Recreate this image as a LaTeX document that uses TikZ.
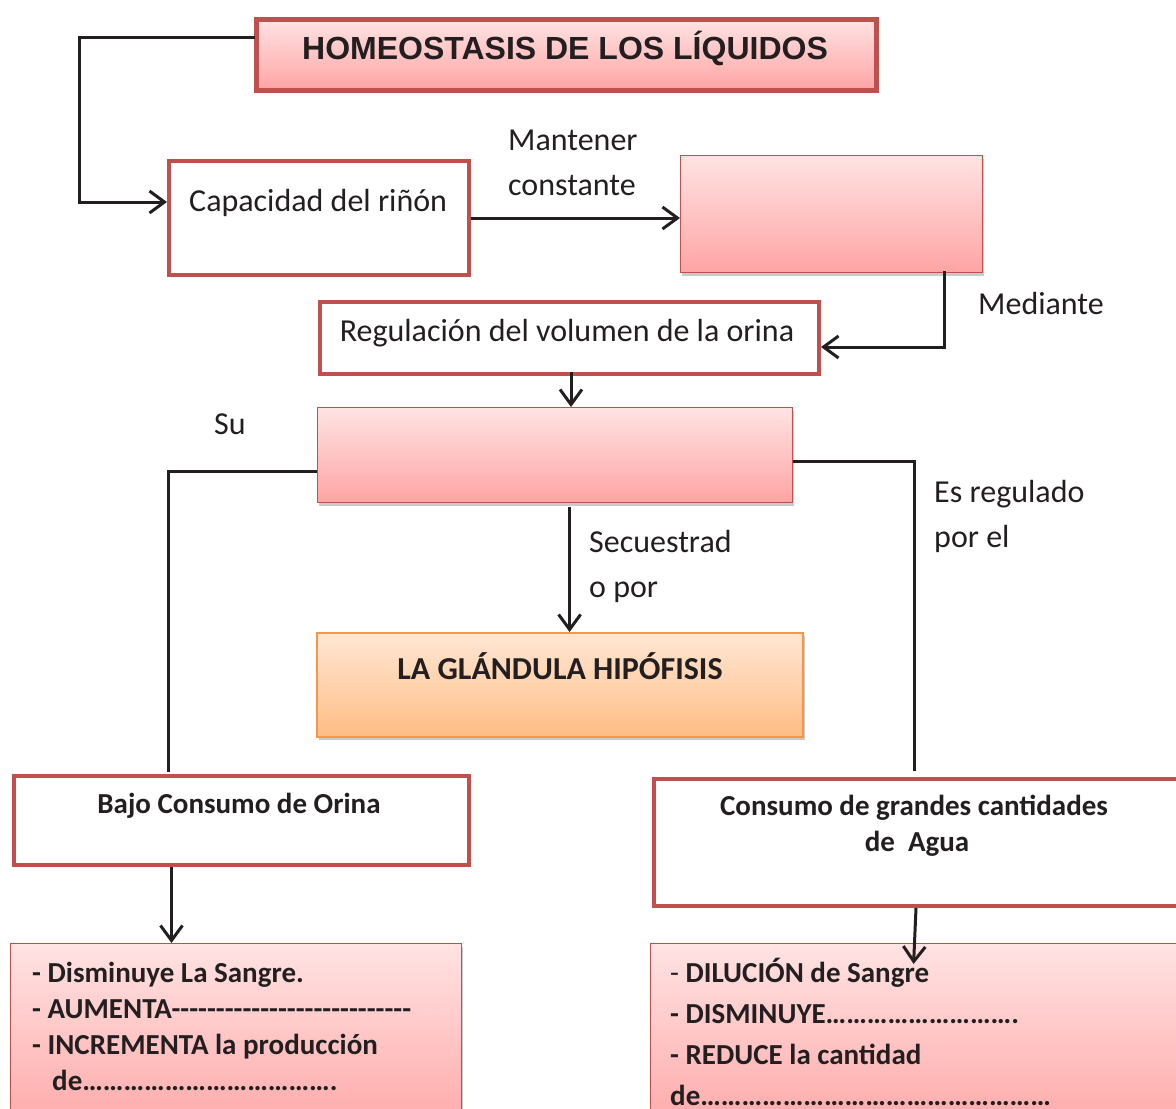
\documentclass[tikz,border=0pt]{standalone}
\usepackage{fontspec}
\setmainfont{Carlito}[Ligatures=TeXOff]
\newfontfamily\titlefont{Liberation Sans}
\usetikzlibrary{arrows.meta,shadows,calc}

\definecolor{boxred}{HTML}{C0504D}
\definecolor{pinktop}{HTML}{FFE3E3}
\definecolor{pinkbot}{HTML}{FFA4A4}
\definecolor{orangeline}{HTML}{F79646}
\definecolor{orangetop}{HTML}{FFE7D4}
\definecolor{orangebot}{HTML}{FFBD85}
\definecolor{ink}{HTML}{231F20}

% repeated fill-in marks
\newcommand\fillellip[1]{\foreach \k in {1,...,#1}{…}}
\newcommand\fillhyph[1]{\foreach \k in {1,...,#1}{-}}

\tikzset{
  boxshadow/.style={drop shadow={shadow xshift=1.5pt,shadow yshift=-3pt,opacity=0.35,fill=black!60}},
  framebox/.style={draw=boxred,line width=4pt,fill=white,inner sep=0pt,anchor=north west},
  pinkbox/.style={draw=boxred,line width=1.2pt,top color=pinktop,bottom color=pinkbot,
    inner sep=0pt,anchor=north west,boxshadow},
  titlebox/.style={draw=boxred,line width=4.5pt,top color=pinktop,bottom color=pinkbot,
    inner sep=0pt,anchor=north west,boxshadow},
  orangebox/.style={draw=orangeline,line width=2pt,top color=orangetop,bottom color=orangebot,
    inner sep=0pt,anchor=north west,boxshadow},
  conn/.style={draw=ink,line width=3pt},
  arr/.style={conn,-{Straight Barb[length=15pt,width=22pt]}},
  plain/.style={inner sep=0pt,text=ink,font=\fontsize{32}{38}\selectfont},
  bold/.style={inner sep=0pt,text=ink,font=\fontsize{29}{35}\selectfont\bfseries},
}

\begin{document}
\begin{tikzpicture}[x=1pt,y=-1pt]
\useasboundingbox (0,0) rectangle (1176,1109);
\clip (0,0) rectangle (1176,1109);

% boxes
\node[titlebox,minimum width=620pt,minimum height=71pt] (title) at (254,17) {};
\node[framebox,minimum width=300pt,minimum height=114pt] (cap) at (167,159) {};
\node[pinkbox,minimum width=302pt,minimum height=117pt] (keep) at (680,155) {};
\node[framebox,minimum width=499pt,minimum height=72pt] (reg) at (318,300) {};
\node[pinkbox,minimum width=475pt,minimum height=95pt] (hormone) at (317,407) {};
\node[orangebox,minimum width=486pt,minimum height=104pt] (hip) at (316,632) {};
\node[framebox,minimum width=455pt,minimum height=89pt] (bajo) at (12,774) {};
\node[framebox,minimum width=540pt,minimum height=127pt] (agua) at (652,777) {};
\node[pinkbox,minimum width=451pt,minimum height=200pt] (effL) at (10,943) {};
\node[pinkbox,minimum width=540pt,minimum height=200pt] (effR) at (650,943) {};

% box texts
\node[inner sep=0pt,text=ink,anchor=base,font=\titlefont\fontsize{32}{38}\selectfont\bfseries] (ttext) at (565,59) {HOMEOSTASIS DE LOS LÍQUIDOS};
\node[plain,anchor=base west] (captext) at (189,211) {Capacidad del riñón};
\node[plain,anchor=base] (regtext) at (567,341) {Regulación del volumen de la orina};
\node[bold,anchor=base,font=\fontsize{32}{38}\selectfont\bfseries] (hiptext) at (560,679) {LA GLÁNDULA HIPÓFISIS};
\node[bold,anchor=base] (bajotext) at (239,813) {Bajo Consumo de Orina};
\node[bold,anchor=base] (aguatext1) at (914,815) {Consumo de grandes cantidades};
\node[bold,anchor=base] (aguatext2) at (917,851) {de\ \ Agua};

\node[bold,anchor=base west] (l1) at (32,982) {- Disminuye La Sangre.};
\node[bold,anchor=base west] (l2) at (32,1018) {- AUMENTA\fillhyph{27}};
\node[bold,anchor=base west] (l3) at (32,1054) {- INCREMENTA la producción};
\node[bold,anchor=base west] (l4) at (52,1090) {de\fillellip{12}.};

\node[bold,anchor=base west] (r1) at (670,982) {\mdseries-\bfseries\ DILUCIÓN de Sangre};
\node[bold,anchor=base west] (r2) at (670,1023) {- DISMINUYE\fillellip{9}.};
\node[bold,anchor=base west] (r3) at (670,1064) {- REDUCE la cantidad};
\node[bold,anchor=base west] (r4) at (670,1105) {de\fillellip{17}};

% connector labels
\node[plain,anchor=base west] (lab1a) at (508,150) {Mantener};
\node[plain,anchor=base west] (lab1b) at (508,195) {constante};
\node[plain,anchor=base west] (lab2) at (978,314) {Mediante};
\node[plain,anchor=base west] (lab3) at (214,434) {Su};
\node[plain,anchor=base west] (lab4a) at (934,502) {Es regulado};
\node[plain,anchor=base west] (lab4b) at (934,547) {por el};
\node[plain,anchor=base west] (lab5a) at (589,552) {Secuestrad};
\node[plain,anchor=base west] (lab5b) at (589,597) {o por};

% connector end points
\coordinate (titleout) at ($(title.north west)+(1,20)$);
\coordinate (capin) at ($(cap.west)+(0,-16)$);
\coordinate (keepout) at ($(keep.south)+(113,-2)$);
\coordinate (regin) at ($(reg.east)+(0,9)$);
\coordinate (regout) at ($(reg.south)+(1.5,-4)$);
\coordinate (leftout) at ($(hormone.west)+(0,16.5)$);
\coordinate (bajoin) at ($(bajo.north)+(-73,-2)$);
\coordinate (rightout) at ($(hormone.east)+(0,6.5)$);
\coordinate (aguain) at ($(agua.north)+(-10,-6)$);
\coordinate (secout) at ($(hormone.south)+(14.5,4)$);
\coordinate (bajoout) at ($(bajo.south)+(-70,0)$);
\coordinate (aguaout) at ($(agua.south)+(-8,0)$);
\coordinate (effRin) at ($(effR.north)+(-7,21)$);

% connectors
\draw[arr] (titleout) -- ++(-176,0) |- (capin);
\draw[arr] (cap.east) -- (cap.east -| keep.west);
\draw[arr] (keepout) |- (regin);
\draw[arr] (regout) -- (regout |- hormone.north);
\draw[conn] (leftout) -| (bajoin);
\draw[conn] (rightout) -| (aguain);
\draw[arr] (secout) -- (secout |- hip.north);
\draw[arr] (bajoout) -- (bajoout |- effL.north);
\draw[arr] (aguaout) -- (effRin);
\end{tikzpicture}
\end{document}
